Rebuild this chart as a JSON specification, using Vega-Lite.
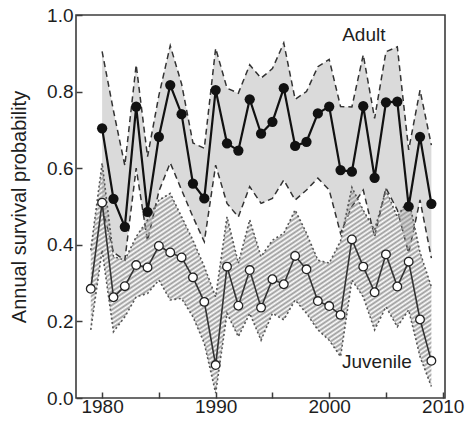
{
  "$schema": "https://vega.github.io/schema/vega-lite/v6.json",
  "width": 369,
  "height": 383,
  "autosize": {"type": "none"},
  "padding": {"left": 76, "top": 15, "right": 21, "bottom": 28},
  "background": "white",
  "config": {
    "font": "Liberation Sans",
    "view": {"stroke": "#3c3c3c", "strokeWidth": 1.6},
    "axis": {
      "domain": false,
      "grid": false,
      "tickColor": "#3c3c3c",
      "tickWidth": 1.5,
      "tickSize": -6,
      "labelFont": "Liberation Sans",
      "labelFontSize": 19,
      "labelColor": "#1e1e1e",
      "titleFont": "Liberation Sans",
      "titleFontSize": 20,
      "titleFontWeight": "normal",
      "titleColor": "#1e1e1e",
      "labelFlush": false,
      "labelOverlap": false
    },
    "axisY": {"labelPadding": 9, "titlePadding": 17},
    "axisX": {"labelPadding": 5}
  },
  "datasets": {
    "surv": [
      {"year": 1980, "g": "Adult", "s": 0.704, "lo": 0.50, "hi": 0.905},
      {"year": 1981, "g": "Adult", "s": 0.52, "lo": 0.38, "hi": 0.75},
      {"year": 1982, "g": "Adult", "s": 0.447, "lo": 0.36, "hi": 0.607},
      {"year": 1983, "g": "Adult", "s": 0.761, "lo": 0.60, "hi": 0.87},
      {"year": 1984, "g": "Adult", "s": 0.486, "lo": 0.41, "hi": 0.63},
      {"year": 1985, "g": "Adult", "s": 0.682, "lo": 0.54, "hi": 0.79},
      {"year": 1986, "g": "Adult", "s": 0.817, "lo": 0.614, "hi": 0.92},
      {"year": 1987, "g": "Adult", "s": 0.741, "lo": 0.543, "hi": 0.82},
      {"year": 1988, "g": "Adult", "s": 0.56, "lo": 0.473, "hi": 0.666},
      {"year": 1989, "g": "Adult", "s": 0.521, "lo": 0.408, "hi": 0.652},
      {"year": 1990, "g": "Adult", "s": 0.804, "lo": 0.608, "hi": 0.913},
      {"year": 1991, "g": "Adult", "s": 0.665, "lo": 0.508, "hi": 0.809},
      {"year": 1992, "g": "Adult", "s": 0.646, "lo": 0.473, "hi": 0.796},
      {"year": 1993, "g": "Adult", "s": 0.78, "lo": 0.552, "hi": 0.87},
      {"year": 1994, "g": "Adult", "s": 0.69, "lo": 0.508, "hi": 0.835},
      {"year": 1995, "g": "Adult", "s": 0.721, "lo": 0.521, "hi": 0.86},
      {"year": 1996, "g": "Adult", "s": 0.809, "lo": 0.569, "hi": 0.927},
      {"year": 1997, "g": "Adult", "s": 0.658, "lo": 0.517, "hi": 0.78},
      {"year": 1998, "g": "Adult", "s": 0.669, "lo": 0.543, "hi": 0.80},
      {"year": 1999, "g": "Adult", "s": 0.743, "lo": 0.574, "hi": 0.865},
      {"year": 2000, "g": "Adult", "s": 0.761, "lo": 0.543, "hi": 0.884},
      {"year": 2001, "g": "Adult", "s": 0.595, "lo": 0.43, "hi": 0.761},
      {"year": 2002, "g": "Adult", "s": 0.591, "lo": 0.50, "hi": 0.76},
      {"year": 2003, "g": "Adult", "s": 0.762, "lo": 0.543, "hi": 0.896},
      {"year": 2004, "g": "Adult", "s": 0.575, "lo": 0.421, "hi": 0.73},
      {"year": 2005, "g": "Adult", "s": 0.772, "lo": 0.548, "hi": 0.904},
      {"year": 2006, "g": "Adult", "s": 0.774, "lo": 0.491, "hi": 0.917},
      {"year": 2007, "g": "Adult", "s": 0.50, "lo": 0.378, "hi": 0.648},
      {"year": 2008, "g": "Adult", "s": 0.682, "lo": 0.517, "hi": 0.804},
      {"year": 2009, "g": "Adult", "s": 0.507, "lo": 0.365, "hi": 0.66},
      {"year": 1979, "g": "Juvenile", "s": 0.285, "lo": 0.178, "hi": 0.386},
      {"year": 1980, "g": "Juvenile", "s": 0.51, "lo": 0.386, "hi": 0.613},
      {"year": 1981, "g": "Juvenile", "s": 0.263, "lo": 0.173, "hi": 0.369},
      {"year": 1982, "g": "Juvenile", "s": 0.292, "lo": 0.212, "hi": 0.36},
      {"year": 1983, "g": "Juvenile", "s": 0.347, "lo": 0.264, "hi": 0.421},
      {"year": 1984, "g": "Juvenile", "s": 0.341, "lo": 0.273, "hi": 0.465},
      {"year": 1985, "g": "Juvenile", "s": 0.397, "lo": 0.308, "hi": 0.517},
      {"year": 1986, "g": "Juvenile", "s": 0.38, "lo": 0.256, "hi": 0.534},
      {"year": 1987, "g": "Juvenile", "s": 0.367, "lo": 0.26, "hi": 0.473},
      {"year": 1988, "g": "Juvenile", "s": 0.315, "lo": 0.212, "hi": 0.412},
      {"year": 1989, "g": "Juvenile", "s": 0.251, "lo": 0.143, "hi": 0.343},
      {"year": 1990, "g": "Juvenile", "s": 0.086, "lo": 0.013, "hi": 0.264},
      {"year": 1991, "g": "Juvenile", "s": 0.343, "lo": 0.221, "hi": 0.473},
      {"year": 1992, "g": "Juvenile", "s": 0.241, "lo": 0.16, "hi": 0.352},
      {"year": 1993, "g": "Juvenile", "s": 0.334, "lo": 0.221, "hi": 0.465},
      {"year": 1994, "g": "Juvenile", "s": 0.236, "lo": 0.151, "hi": 0.369},
      {"year": 1995, "g": "Juvenile", "s": 0.31, "lo": 0.221, "hi": 0.412},
      {"year": 1996, "g": "Juvenile", "s": 0.297, "lo": 0.204, "hi": 0.43},
      {"year": 1997, "g": "Juvenile", "s": 0.371, "lo": 0.256, "hi": 0.491},
      {"year": 1998, "g": "Juvenile", "s": 0.336, "lo": 0.221, "hi": 0.43},
      {"year": 1999, "g": "Juvenile", "s": 0.253, "lo": 0.178, "hi": 0.36},
      {"year": 2000, "g": "Juvenile", "s": 0.24, "lo": 0.151, "hi": 0.352},
      {"year": 2001, "g": "Juvenile", "s": 0.217, "lo": 0.108, "hi": 0.41},
      {"year": 2002, "g": "Juvenile", "s": 0.414, "lo": 0.308, "hi": 0.55},
      {"year": 2003, "g": "Juvenile", "s": 0.343, "lo": 0.264, "hi": 0.49},
      {"year": 2004, "g": "Juvenile", "s": 0.276, "lo": 0.178, "hi": 0.439},
      {"year": 2005, "g": "Juvenile", "s": 0.375, "lo": 0.238, "hi": 0.543},
      {"year": 2006, "g": "Juvenile", "s": 0.291, "lo": 0.186, "hi": 0.473},
      {"year": 2007, "g": "Juvenile", "s": 0.356, "lo": 0.23, "hi": 0.52},
      {"year": 2008, "g": "Juvenile", "s": 0.205, "lo": 0.108, "hi": 0.38},
      {"year": 2009, "g": "Juvenile", "s": 0.097, "lo": 0.03, "hi": 0.29}
    ],
    "labels": [
      {"label": "Adult", "year": 2003.05, "v": 0.948},
      {"label": "Juvenile", "year": 2004.2, "v": 0.095}
    ]
  },
  "data": {"name": "surv"},
  "encoding": {
    "x": {
      "field": "year",
      "type": "quantitative",
      "title": null,
      "scale": {"domain": [1977.7, 2010.2], "nice": false, "zero": false},
      "axis": {
        "values": [1980, 1985, 1990, 1995, 2000, 2005, 2010],
        "format": "d",
        "labelExpr": "datum.value % 10 == 0 ? datum.label : ''"
      }
    }
  },
  "layer": [
    {
      "transform": [{"filter": "datum.g == 'Adult'"}],
      "mark": {"type": "area", "color": "#dadada", "opacity": 1},
      "encoding": {
        "y": {"field": "lo", "type": "quantitative", "title": "Annual survival probability", "scale": {"domain": [0, 1], "nice": false}, "axis": {"values": [0, 0.2, 0.4, 0.6, 0.8, 1], "format": ".1f"}},
        "y2": {"field": "hi"}
      }
    },
    {
      "transform": [{"filter": "datum.g == 'Adult'"}],
      "mark": {"type": "line", "color": "#333333", "strokeWidth": 1.5, "strokeDash": [6, 4]},
      "encoding": {"y": {"field": "lo", "type": "quantitative", "title": "Annual survival probability", "scale": {"domain": [0, 1], "nice": false}, "axis": {"values": [0, 0.2, 0.4, 0.6, 0.8, 1], "format": ".1f"}}}
    },
    {
      "transform": [{"filter": "datum.g == 'Adult'"}],
      "mark": {"type": "line", "color": "#333333", "strokeWidth": 1.5, "strokeDash": [6, 4]},
      "encoding": {"y": {"field": "hi", "type": "quantitative", "title": "Annual survival probability", "scale": {"domain": [0, 1], "nice": false}, "axis": {"values": [0, 0.2, 0.4, 0.6, 0.8, 1], "format": ".1f"}}}
    },
    {
      "transform": [{"filter": "datum.g == 'Juvenile'"}],
      "mark": {
        "type": "area",
        "opacity": 1,
        "fill": {
          "gradient": "linear",
          "x1": 0, "y1": 0, "x2": 1, "y2": 1,
          "stops": [
            {"offset": 0, "color": "#9a9a9a"}, {"offset": 0.005, "color": "#9a9a9a00"},
            {"offset": 0.01, "color": "#9a9a9a"}, {"offset": 0.015, "color": "#9a9a9a00"},
            {"offset": 0.02, "color": "#9a9a9a"}, {"offset": 0.025, "color": "#9a9a9a00"},
            {"offset": 0.03, "color": "#9a9a9a"}, {"offset": 0.035, "color": "#9a9a9a00"},
            {"offset": 0.04, "color": "#9a9a9a"}, {"offset": 0.045, "color": "#9a9a9a00"},
            {"offset": 0.05, "color": "#9a9a9a"}, {"offset": 0.055, "color": "#9a9a9a00"},
            {"offset": 0.06, "color": "#9a9a9a"}, {"offset": 0.065, "color": "#9a9a9a00"},
            {"offset": 0.07, "color": "#9a9a9a"}, {"offset": 0.075, "color": "#9a9a9a00"},
            {"offset": 0.08, "color": "#9a9a9a"}, {"offset": 0.085, "color": "#9a9a9a00"},
            {"offset": 0.09, "color": "#9a9a9a"}, {"offset": 0.095, "color": "#9a9a9a00"},
            {"offset": 0.10, "color": "#9a9a9a"}, {"offset": 0.105, "color": "#9a9a9a00"},
            {"offset": 0.11, "color": "#9a9a9a"}, {"offset": 0.115, "color": "#9a9a9a00"},
            {"offset": 0.12, "color": "#9a9a9a"}, {"offset": 0.125, "color": "#9a9a9a00"},
            {"offset": 0.13, "color": "#9a9a9a"}, {"offset": 0.135, "color": "#9a9a9a00"},
            {"offset": 0.14, "color": "#9a9a9a"}, {"offset": 0.145, "color": "#9a9a9a00"},
            {"offset": 0.15, "color": "#9a9a9a"}, {"offset": 0.155, "color": "#9a9a9a00"},
            {"offset": 0.16, "color": "#9a9a9a"}, {"offset": 0.165, "color": "#9a9a9a00"},
            {"offset": 0.17, "color": "#9a9a9a"}, {"offset": 0.175, "color": "#9a9a9a00"},
            {"offset": 0.18, "color": "#9a9a9a"}, {"offset": 0.185, "color": "#9a9a9a00"},
            {"offset": 0.19, "color": "#9a9a9a"}, {"offset": 0.195, "color": "#9a9a9a00"},
            {"offset": 0.20, "color": "#9a9a9a"}, {"offset": 0.205, "color": "#9a9a9a00"},
            {"offset": 0.21, "color": "#9a9a9a"}, {"offset": 0.215, "color": "#9a9a9a00"},
            {"offset": 0.22, "color": "#9a9a9a"}, {"offset": 0.225, "color": "#9a9a9a00"},
            {"offset": 0.23, "color": "#9a9a9a"}, {"offset": 0.235, "color": "#9a9a9a00"},
            {"offset": 0.24, "color": "#9a9a9a"}, {"offset": 0.245, "color": "#9a9a9a00"},
            {"offset": 0.25, "color": "#9a9a9a"}, {"offset": 0.255, "color": "#9a9a9a00"},
            {"offset": 0.26, "color": "#9a9a9a"}, {"offset": 0.265, "color": "#9a9a9a00"},
            {"offset": 0.27, "color": "#9a9a9a"}, {"offset": 0.275, "color": "#9a9a9a00"},
            {"offset": 0.28, "color": "#9a9a9a"}, {"offset": 0.285, "color": "#9a9a9a00"},
            {"offset": 0.29, "color": "#9a9a9a"}, {"offset": 0.295, "color": "#9a9a9a00"},
            {"offset": 0.30, "color": "#9a9a9a"}, {"offset": 0.305, "color": "#9a9a9a00"},
            {"offset": 0.31, "color": "#9a9a9a"}, {"offset": 0.315, "color": "#9a9a9a00"},
            {"offset": 0.32, "color": "#9a9a9a"}, {"offset": 0.325, "color": "#9a9a9a00"},
            {"offset": 0.33, "color": "#9a9a9a"}, {"offset": 0.335, "color": "#9a9a9a00"},
            {"offset": 0.34, "color": "#9a9a9a"}, {"offset": 0.345, "color": "#9a9a9a00"},
            {"offset": 0.35, "color": "#9a9a9a"}, {"offset": 0.355, "color": "#9a9a9a00"},
            {"offset": 0.36, "color": "#9a9a9a"}, {"offset": 0.365, "color": "#9a9a9a00"},
            {"offset": 0.37, "color": "#9a9a9a"}, {"offset": 0.375, "color": "#9a9a9a00"},
            {"offset": 0.38, "color": "#9a9a9a"}, {"offset": 0.385, "color": "#9a9a9a00"},
            {"offset": 0.39, "color": "#9a9a9a"}, {"offset": 0.395, "color": "#9a9a9a00"},
            {"offset": 0.40, "color": "#9a9a9a"}, {"offset": 0.405, "color": "#9a9a9a00"},
            {"offset": 0.41, "color": "#9a9a9a"}, {"offset": 0.415, "color": "#9a9a9a00"},
            {"offset": 0.42, "color": "#9a9a9a"}, {"offset": 0.425, "color": "#9a9a9a00"},
            {"offset": 0.43, "color": "#9a9a9a"}, {"offset": 0.435, "color": "#9a9a9a00"},
            {"offset": 0.44, "color": "#9a9a9a"}, {"offset": 0.445, "color": "#9a9a9a00"},
            {"offset": 0.45, "color": "#9a9a9a"}, {"offset": 0.455, "color": "#9a9a9a00"},
            {"offset": 0.46, "color": "#9a9a9a"}, {"offset": 0.465, "color": "#9a9a9a00"},
            {"offset": 0.47, "color": "#9a9a9a"}, {"offset": 0.475, "color": "#9a9a9a00"},
            {"offset": 0.48, "color": "#9a9a9a"}, {"offset": 0.485, "color": "#9a9a9a00"},
            {"offset": 0.49, "color": "#9a9a9a"}, {"offset": 0.495, "color": "#9a9a9a00"},
            {"offset": 0.50, "color": "#9a9a9a"}, {"offset": 0.505, "color": "#9a9a9a00"},
            {"offset": 0.51, "color": "#9a9a9a"}, {"offset": 0.515, "color": "#9a9a9a00"},
            {"offset": 0.52, "color": "#9a9a9a"}, {"offset": 0.525, "color": "#9a9a9a00"},
            {"offset": 0.53, "color": "#9a9a9a"}, {"offset": 0.535, "color": "#9a9a9a00"},
            {"offset": 0.54, "color": "#9a9a9a"}, {"offset": 0.545, "color": "#9a9a9a00"},
            {"offset": 0.55, "color": "#9a9a9a"}, {"offset": 0.555, "color": "#9a9a9a00"},
            {"offset": 0.56, "color": "#9a9a9a"}, {"offset": 0.565, "color": "#9a9a9a00"},
            {"offset": 0.57, "color": "#9a9a9a"}, {"offset": 0.575, "color": "#9a9a9a00"},
            {"offset": 0.58, "color": "#9a9a9a"}, {"offset": 0.585, "color": "#9a9a9a00"},
            {"offset": 0.59, "color": "#9a9a9a"}, {"offset": 0.595, "color": "#9a9a9a00"},
            {"offset": 0.60, "color": "#9a9a9a"}, {"offset": 0.605, "color": "#9a9a9a00"},
            {"offset": 0.61, "color": "#9a9a9a"}, {"offset": 0.615, "color": "#9a9a9a00"},
            {"offset": 0.62, "color": "#9a9a9a"}, {"offset": 0.625, "color": "#9a9a9a00"},
            {"offset": 0.63, "color": "#9a9a9a"}, {"offset": 0.635, "color": "#9a9a9a00"},
            {"offset": 0.64, "color": "#9a9a9a"}, {"offset": 0.645, "color": "#9a9a9a00"},
            {"offset": 0.65, "color": "#9a9a9a"}, {"offset": 0.655, "color": "#9a9a9a00"},
            {"offset": 0.66, "color": "#9a9a9a"}, {"offset": 0.665, "color": "#9a9a9a00"},
            {"offset": 0.67, "color": "#9a9a9a"}, {"offset": 0.675, "color": "#9a9a9a00"},
            {"offset": 0.68, "color": "#9a9a9a"}, {"offset": 0.685, "color": "#9a9a9a00"},
            {"offset": 0.69, "color": "#9a9a9a"}, {"offset": 0.695, "color": "#9a9a9a00"},
            {"offset": 0.70, "color": "#9a9a9a"}, {"offset": 0.705, "color": "#9a9a9a00"},
            {"offset": 0.71, "color": "#9a9a9a"}, {"offset": 0.715, "color": "#9a9a9a00"},
            {"offset": 0.72, "color": "#9a9a9a"}, {"offset": 0.725, "color": "#9a9a9a00"},
            {"offset": 0.73, "color": "#9a9a9a"}, {"offset": 0.735, "color": "#9a9a9a00"},
            {"offset": 0.74, "color": "#9a9a9a"}, {"offset": 0.745, "color": "#9a9a9a00"},
            {"offset": 0.75, "color": "#9a9a9a"}, {"offset": 0.755, "color": "#9a9a9a00"},
            {"offset": 0.76, "color": "#9a9a9a"}, {"offset": 0.765, "color": "#9a9a9a00"},
            {"offset": 0.77, "color": "#9a9a9a"}, {"offset": 0.775, "color": "#9a9a9a00"},
            {"offset": 0.78, "color": "#9a9a9a"}, {"offset": 0.785, "color": "#9a9a9a00"},
            {"offset": 0.79, "color": "#9a9a9a"}, {"offset": 0.795, "color": "#9a9a9a00"},
            {"offset": 0.80, "color": "#9a9a9a"}, {"offset": 0.805, "color": "#9a9a9a00"},
            {"offset": 0.81, "color": "#9a9a9a"}, {"offset": 0.815, "color": "#9a9a9a00"},
            {"offset": 0.82, "color": "#9a9a9a"}, {"offset": 0.825, "color": "#9a9a9a00"},
            {"offset": 0.83, "color": "#9a9a9a"}, {"offset": 0.835, "color": "#9a9a9a00"},
            {"offset": 0.84, "color": "#9a9a9a"}, {"offset": 0.845, "color": "#9a9a9a00"},
            {"offset": 0.85, "color": "#9a9a9a"}, {"offset": 0.855, "color": "#9a9a9a00"},
            {"offset": 0.86, "color": "#9a9a9a"}, {"offset": 0.865, "color": "#9a9a9a00"},
            {"offset": 0.87, "color": "#9a9a9a"}, {"offset": 0.875, "color": "#9a9a9a00"},
            {"offset": 0.88, "color": "#9a9a9a"}, {"offset": 0.885, "color": "#9a9a9a00"},
            {"offset": 0.89, "color": "#9a9a9a"}, {"offset": 0.895, "color": "#9a9a9a00"},
            {"offset": 0.90, "color": "#9a9a9a"}, {"offset": 0.905, "color": "#9a9a9a00"},
            {"offset": 0.91, "color": "#9a9a9a"}, {"offset": 0.915, "color": "#9a9a9a00"},
            {"offset": 0.92, "color": "#9a9a9a"}, {"offset": 0.925, "color": "#9a9a9a00"},
            {"offset": 0.93, "color": "#9a9a9a"}, {"offset": 0.935, "color": "#9a9a9a00"},
            {"offset": 0.94, "color": "#9a9a9a"}, {"offset": 0.945, "color": "#9a9a9a00"},
            {"offset": 0.95, "color": "#9a9a9a"}, {"offset": 0.955, "color": "#9a9a9a00"},
            {"offset": 0.96, "color": "#9a9a9a"}, {"offset": 0.965, "color": "#9a9a9a00"},
            {"offset": 0.97, "color": "#9a9a9a"}, {"offset": 0.975, "color": "#9a9a9a00"},
            {"offset": 0.98, "color": "#9a9a9a"}, {"offset": 0.985, "color": "#9a9a9a00"},
            {"offset": 0.99, "color": "#9a9a9a"}, {"offset": 0.995, "color": "#9a9a9a00"},
            {"offset": 1, "color": "#9a9a9a"}
          ]
        }
      },
      "encoding": {
        "y": {"field": "lo", "type": "quantitative", "title": "Annual survival probability", "scale": {"domain": [0, 1], "nice": false}, "axis": {"values": [0, 0.2, 0.4, 0.6, 0.8, 1], "format": ".1f"}},
        "y2": {"field": "hi"}
      }
    },
    {
      "transform": [{"filter": "datum.g == 'Juvenile'"}],
      "mark": {"type": "line", "color": "#555555", "strokeWidth": 1.6, "strokeDash": [2, 2.5]},
      "encoding": {"y": {"field": "lo", "type": "quantitative", "title": "Annual survival probability", "scale": {"domain": [0, 1], "nice": false}, "axis": {"values": [0, 0.2, 0.4, 0.6, 0.8, 1], "format": ".1f"}}}
    },
    {
      "transform": [{"filter": "datum.g == 'Juvenile'"}],
      "mark": {"type": "line", "color": "#555555", "strokeWidth": 1.6, "strokeDash": [2, 2.5]},
      "encoding": {"y": {"field": "hi", "type": "quantitative", "title": "Annual survival probability", "scale": {"domain": [0, 1], "nice": false}, "axis": {"values": [0, 0.2, 0.4, 0.6, 0.8, 1], "format": ".1f"}}}
    },
    {
      "transform": [{"filter": "datum.g == 'Juvenile'"}],
      "mark": {"type": "line", "color": "#333333", "strokeWidth": 1.6},
      "encoding": {"y": {"field": "s", "type": "quantitative", "title": "Annual survival probability", "scale": {"domain": [0, 1], "nice": false}, "axis": {"values": [0, 0.2, 0.4, 0.6, 0.8, 1], "format": ".1f"}}}
    },
    {
      "transform": [{"filter": "datum.g == 'Juvenile'"}],
      "mark": {"type": "point", "shape": "circle", "filled": true, "fill": "white", "stroke": "#222222", "strokeWidth": 1.3, "size": 75, "opacity": 1},
      "encoding": {"y": {"field": "s", "type": "quantitative", "title": "Annual survival probability", "scale": {"domain": [0, 1], "nice": false}, "axis": {"values": [0, 0.2, 0.4, 0.6, 0.8, 1], "format": ".1f"}}}
    },
    {
      "transform": [{"filter": "datum.g == 'Adult'"}],
      "mark": {"type": "line", "color": "#111111", "strokeWidth": 2.2},
      "encoding": {"y": {"field": "s", "type": "quantitative", "title": "Annual survival probability", "scale": {"domain": [0, 1], "nice": false}, "axis": {"values": [0, 0.2, 0.4, 0.6, 0.8, 1], "format": ".1f"}}}
    },
    {
      "transform": [{"filter": "datum.g == 'Adult'"}],
      "mark": {"type": "point", "shape": "circle", "filled": true, "color": "#111111", "size": 105, "opacity": 1},
      "encoding": {"y": {"field": "s", "type": "quantitative", "title": "Annual survival probability", "scale": {"domain": [0, 1], "nice": false}, "axis": {"values": [0, 0.2, 0.4, 0.6, 0.8, 1], "format": ".1f"}}}
    },
    {
      "data": {"name": "labels"},
      "mark": {"type": "text", "font": "Liberation Sans", "fontSize": 19, "color": "#1e1e1e", "align": "center", "baseline": "middle"},
      "encoding": {
        "x": {"field": "year", "type": "quantitative", "title": null},
        "y": {"field": "v", "type": "quantitative", "title": "Annual survival probability", "scale": {"domain": [0, 1], "nice": false}, "axis": {"values": [0, 0.2, 0.4, 0.6, 0.8, 1], "format": ".1f"}},
        "text": {"field": "label"}
      }
    }
  ]
}
